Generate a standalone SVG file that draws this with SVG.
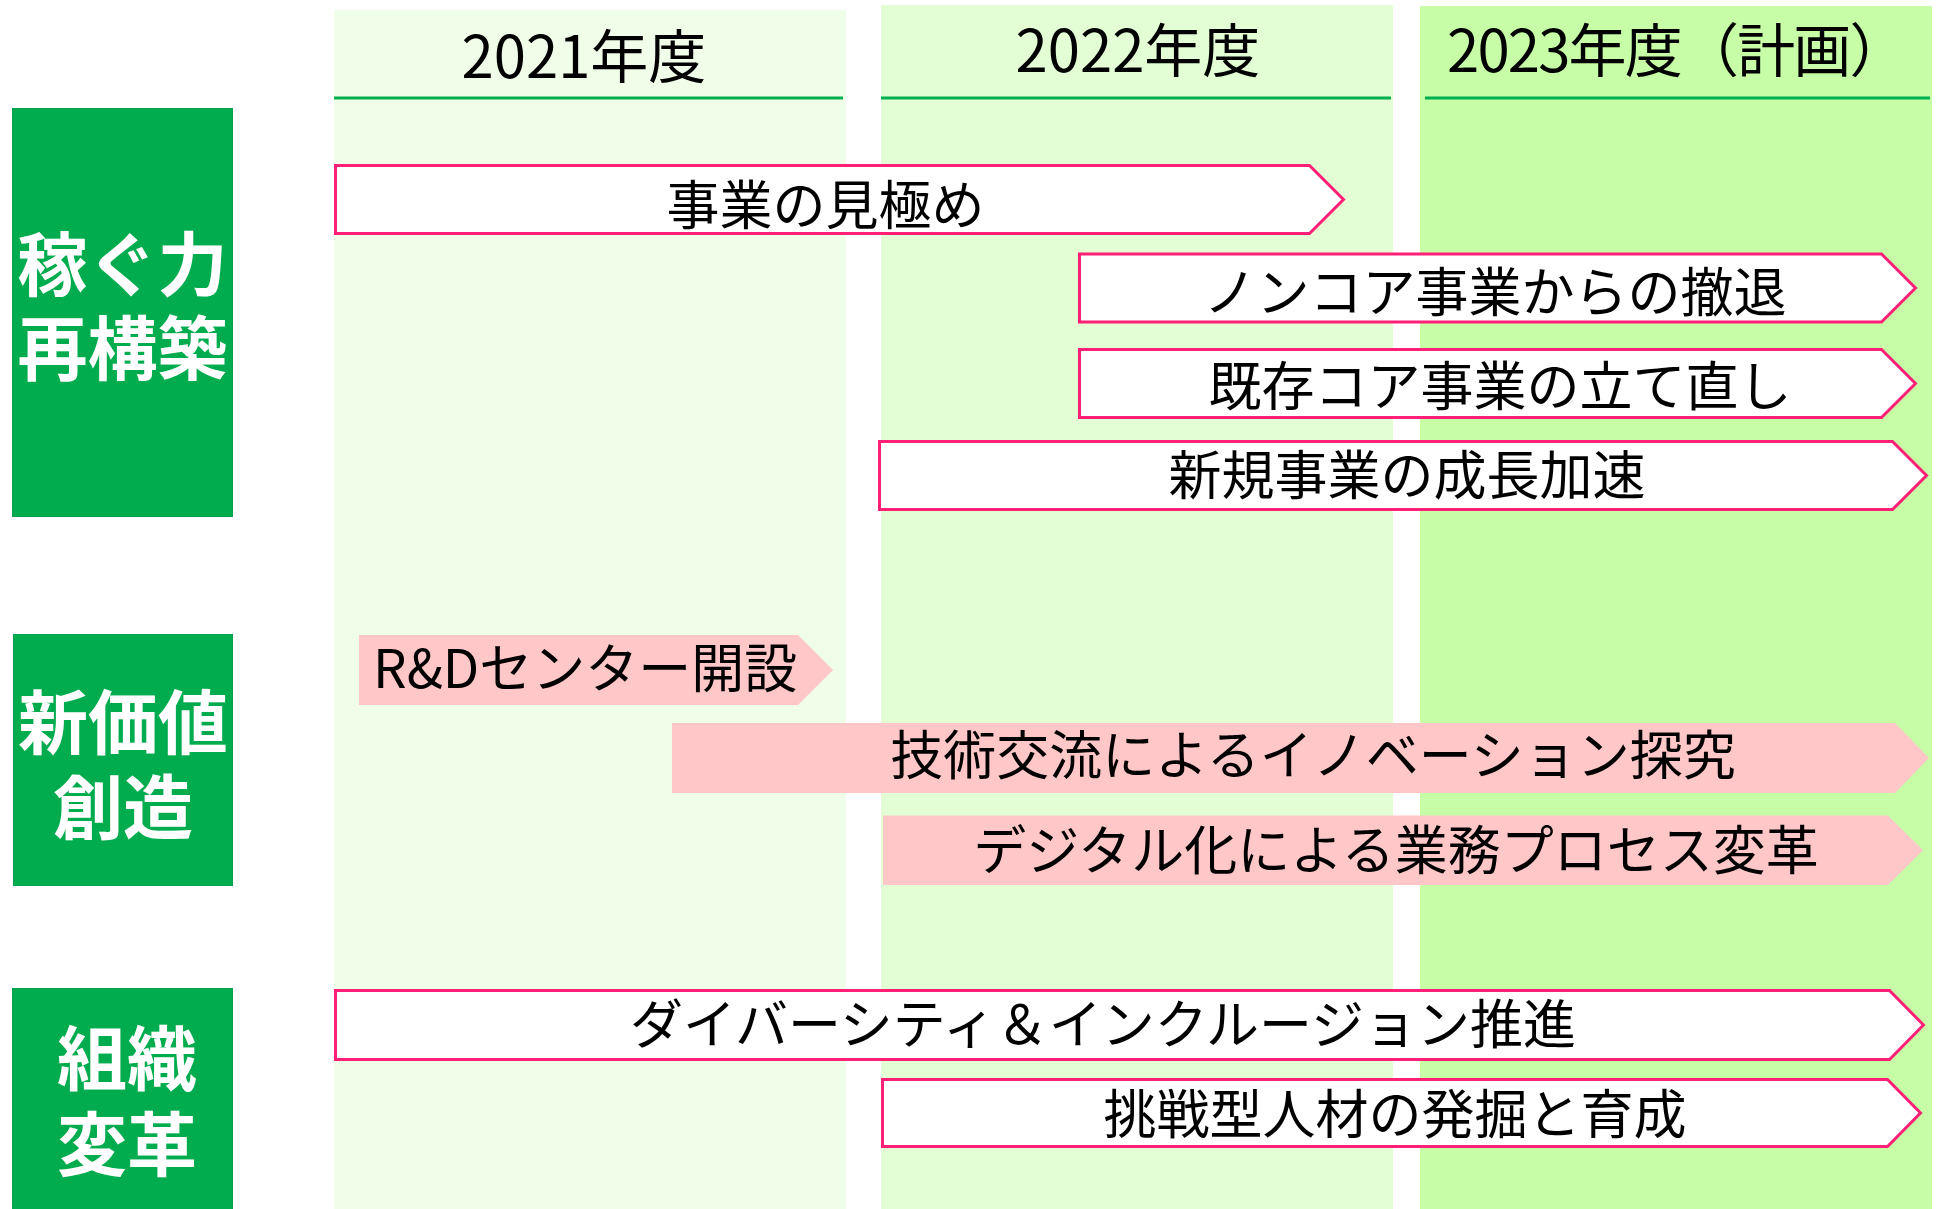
<svg xmlns="http://www.w3.org/2000/svg" width="1939" height="1209" viewBox="0 0 1939 1209">
<style>
text{font-family:"Noto Sans CJK JP","Noto Sans",sans-serif;fill:#000}
.hdr{font-size:58px}
.lbl{font-size:53px}
.cat{font-size:70px;font-weight:bold;fill:#fff;text-anchor:middle}
.cbox{fill:#00AC4E;stroke:#07A050;stroke-width:1}
.hline{stroke:#00B050;stroke-width:3}
.outl{fill:#fff;stroke:#FF1F77;stroke-width:3;stroke-linejoin:miter}
.pink{fill:#FFC7C7}
.mid{text-anchor:middle}
</style>
<g id="columns">
<rect x="334" y="10" width="512" height="1199" fill="#F0FDE8"/>
<rect x="881" y="5" width="512" height="1204" fill="#E3FDD5"/>
<rect x="1420" y="6" width="512" height="1203" fill="#C6FDA6"/>
<line class="hline" x1="334" y1="98" x2="843" y2="98"/>
<line class="hline" x1="881" y1="98" x2="1391" y2="98"/>
<line class="hline" x1="1425" y1="98" x2="1930" y2="98"/>
<text class="hdr mid" x="584" y="78">2021年度</text>
<text class="hdr mid" x="1138" y="72">2022年度</text>
<text class="hdr" x="1447" y="72" letter-spacing="-1.8">2023年度（計画）</text>
</g>
<g id="cat1">
<rect class="cbox" x="12.5" y="108.5" width="220" height="408"/>
<text class="cat" x="122.5" y="291">稼ぐ力</text>
<text class="cat" x="122.5" y="375">再構築</text>
</g>
<g id="cat2">
<rect class="cbox" x="13.5" y="634.5" width="219" height="251"/>
<text class="cat" x="123" y="749">新価値</text>
<text class="cat" x="123" y="834">創造</text>
</g>
<g id="cat3">
<rect class="cbox" x="12.5" y="988.5" width="220" height="225"/>
<text class="cat" x="127" y="1085">組織</text>
<text class="cat" x="127" y="1171">変革</text>
</g>
<g id="a1">
<path class="outl" d="M335.5,165.5H1309.5L1343.5,199.5L1309.5,233.5H335.5Z"/>
<text class="lbl mid" x="825.5" y="225">事業の見極め</text>
</g>
<g id="a2">
<path class="outl" d="M1079.5,254H1881.5L1915.5,288L1881.5,322H1079.5Z"/>
<text class="lbl mid" x="1495" y="312">ノンコア事業からの撤退</text>
</g>
<g id="a3">
<path class="outl" d="M1079.5,349.5H1881.5L1915.5,383.5L1881.5,417.5H1079.5Z"/>
<text class="lbl mid" x="1500" y="406">既存コア事業の立て直し</text>
</g>
<g id="a4">
<path class="outl" d="M879.5,441.5H1892.5L1926.5,475.5L1892.5,509.5H879.5Z"/>
<text class="lbl mid" x="1407" y="494.5">新規事業の成長加速</text>
</g>
<g id="a5">
<path class="pink" d="M359,635H798L833,670L798,705H359Z"/>
<text class="lbl" x="373" y="688">R&amp;Dセンター開設</text>
</g>
<g id="a6">
<path class="pink" d="M672,723H1895L1929,758L1895,793H672Z"/>
<text class="lbl mid" x="1313" y="775">技術交流によるイノベーション探究</text>
</g>
<g id="a7">
<path class="pink" d="M883,815.5H1888L1923,850.3L1888,885H883Z"/>
<text class="lbl mid" x="1396" y="870">デジタル化による業務プロセス変革</text>
</g>
<g id="a8">
<path class="outl" d="M335.5,990.5H1889.5L1923.5,1025L1889.5,1059.5H335.5Z"/>
<text class="lbl mid" x="1103" y="1044">ダイバーシティ＆インクルージョン推進</text>
</g>
<g id="a9">
<path class="outl" d="M882.5,1079.5H1887.5L1920.5,1113L1887.5,1146.5H882.5Z"/>
<text class="lbl mid" x="1395" y="1134">挑戦型人材の発掘と育成</text>
</g>
<g id="connectors"/>
</svg>
